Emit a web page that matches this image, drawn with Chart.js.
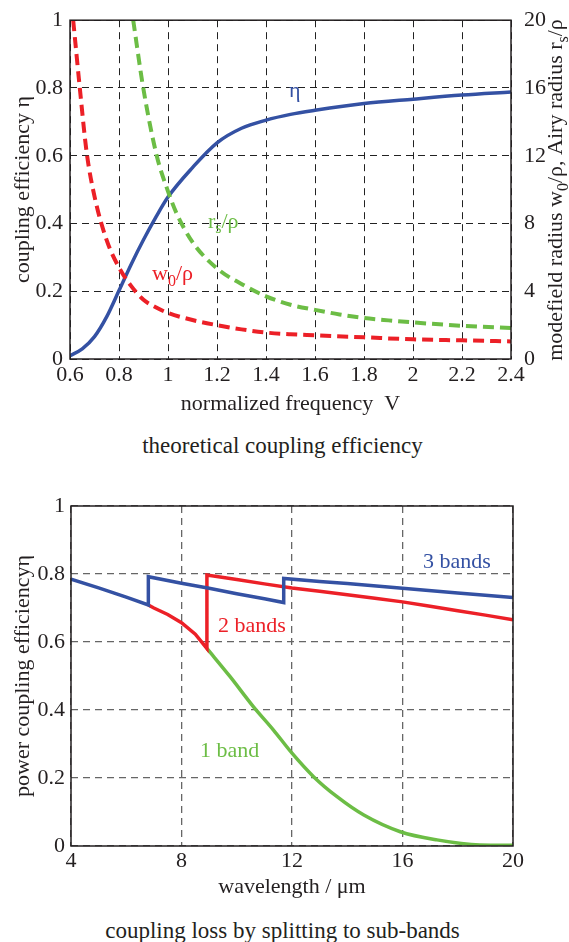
<!DOCTYPE html>
<html>
<head>
<meta charset="utf-8">
<script src="https://cdn.jsdelivr.net/npm/chart.js@4/dist/chart.umd.min.js"></script>
<style>
  body { margin: 0; background: #fff; }
  #page { position: relative; width: 569px; height: 942px; overflow: hidden; background: #fff; }
  canvas { position: absolute; left: 0; }
  .caption { position: absolute; left: 0; width: 565px; text-align: center; font: 23px "Liberation Serif", serif; color: #231f20; line-height: 26px; }
</style>
</head>
<body>
<div id="page">
  <canvas id="topChart" width="569" height="430" style="top:0"></canvas>
  <div class="caption" style="top:433px">theoretical coupling efficiency</div>
  <canvas id="bottomChart" width="569" height="420" style="top:480px"></canvas>
  <div class="caption" style="top:918px">coupling loss by splitting to sub-bands</div>
</div>
<script>
// --- top chart data (normalized frequency V) ---
const etaV = [0.6, 0.65, 0.7, 0.75, 0.8, 0.85, 0.9, 0.95, 1.0, 1.1, 1.2, 1.3, 1.4, 1.5, 1.6, 1.8, 2.0, 2.2, 2.4];
const etaVal = [0.01, 0.03, 0.066, 0.125, 0.202, 0.28, 0.352, 0.418, 0.478, 0.565, 0.638, 0.681, 0.705, 0.722, 0.734, 0.754, 0.767, 0.779, 0.788];
const w0V = [0.613, 0.64, 0.668, 0.7, 0.75, 0.8, 0.85, 0.9, 0.95, 1.0, 1.1, 1.2, 1.3, 1.4, 1.5, 1.6, 1.8, 2.0, 2.2, 2.4];
const w0Val = [20, 16, 12.2, 9.6, 7.0, 5.4, 4.3, 3.5, 3.05, 2.72, 2.3, 2.0, 1.75, 1.56, 1.46, 1.4, 1.28, 1.16, 1.1, 1.04];
const rsV = [0.858, 0.899, 0.954, 1.0, 1.035, 1.1, 1.2, 1.32, 1.4, 1.5, 1.6, 1.7, 1.8, 1.9, 2.0, 2.2, 2.4];
const rsVal = [20, 16, 12, 9.9, 8.6, 6.9, 5.35, 4.27, 3.7, 3.2, 2.9, 2.63, 2.42, 2.28, 2.16, 1.96, 1.83];
const topXTicks = [0.6, 0.8, 1, 1.2, 1.4, 1.6, 1.8, 2, 2.2, 2.4];
const topXLabels = ['0.6', '0.8', '1', '1.2', '1.4', '1.6', '1.8', '2', '2.2', '2.4'];
const topYTicks = [0, 0.2, 0.4, 0.6, 0.8, 1];
const topYLabels = ['0', '0.2', '0.4', '0.6', '0.8', '1'];
const topY2Ticks = [0, 4, 8, 12, 16, 20];
const topY2Labels = ['0', '4', '8', '12', '16', '20'];

// --- bottom chart data (wavelength / um) ---
const band3X = [4, 5, 6, 6.8, 6.8, 8, 9, 10, 11, 11.7, 11.7, 13, 14, 16, 18, 20];
const band3Y = [0.785, 0.759, 0.732, 0.709, 0.792, 0.773, 0.758, 0.742, 0.727, 0.716, 0.787, 0.778, 0.772, 0.758, 0.744, 0.731];
const band2X = [6.8, 7, 7.5, 8, 8.5, 8.92, 8.92, 10, 11, 12, 13, 14, 15, 16, 17, 18, 19, 20];
const band2Y = [0.709, 0.7, 0.681, 0.657, 0.623, 0.581, 0.797, 0.784, 0.771, 0.759, 0.749, 0.739, 0.729, 0.718, 0.705, 0.692, 0.679, 0.665];
const band1X = [8.92, 9.76, 10.6, 11.33, 12.0, 12.78, 13.63, 14.6, 15.92, 17.25, 18.8, 20];
const band1Y = [0.581, 0.498, 0.41, 0.341, 0.273, 0.204, 0.145, 0.091, 0.042, 0.018, 0.003, 0.002];
const botXTicks = [4, 8, 12, 16, 20];
const botXLabels = ['4', '8', '12', '16', '20'];
const botYTicks = [0, 0.2, 0.4, 0.6, 0.8, 1];
const botYLabels = ['0', '0.2', '0.4', '0.6', '0.8', '1'];

const BLUE = '#3451a3';
const RED = '#ec2027';
const GREEN = '#6cbd45';
const INK = '#231f20';
const FONT = '"Liberation Serif", "Times New Roman", serif';

function pts(xs, ys) {
    return xs.map((x, i) => ({ x: x, y: ys[i] }));
}

function fixedTicks(vals, labels) {
    return {
        afterBuildTicks: (scale) => { scale.ticks = vals.map(v => ({ value: v })); },
        callback: (v) => labels[vals.indexOf(v)]
    };
}

// text with subscripts: parts = [[text, isSub], ...]
function drawRich(ctx, parts, x, y, size, color, align, rot) {
    const main = size + 'px ' + FONT;
    const sub = Math.round(size * 0.72) + 'px ' + FONT;
    ctx.save();
    ctx.translate(x, y);
    if (rot) ctx.rotate(rot);
    let w = 0;
    parts.forEach(p => { ctx.font = p[1] ? sub : main; w += ctx.measureText(p[0]).width; });
    let cx = align === 'center' ? -w / 2 : 0;
    ctx.fillStyle = color;
    ctx.textBaseline = 'middle';
    ctx.textAlign = 'left';
    parts.forEach(p => {
        ctx.font = p[1] ? sub : main;
        ctx.fillText(p[0], cx, p[1] ? size * 0.34 : 0);
        cx += ctx.measureText(p[0]).width;
    });
    ctx.restore();
}

// frame around plot + labels inside the plot
const framePlugin = {
    id: 'frame',
    afterDraw(chart, args, opts) {
        const ctx = chart.ctx;
        const a = chart.chartArea;
        ctx.save();
        ctx.strokeStyle = INK;
        ctx.lineWidth = 1.5;
        ctx.strokeRect(a.left, a.top, a.right - a.left, a.bottom - a.top);
        ctx.restore();
        const xs = chart.scales.x, ys = chart.scales.y;
        (opts.labels || []).forEach(l => {
            drawRich(ctx, l.parts, xs.getPixelForValue(l.x), ys.getPixelForValue(l.y), l.size || 22, l.color, 'left');
        });
        (opts.rich || []).forEach(r => {
            drawRich(ctx, r.parts, r.px, r.py, r.size || 22, r.color, 'center', r.rot);
        });
    }
};

function gridOpts(color, width) {
    return { color: color, lineWidth: width, drawTicks: false };
}

const tickFont = { family: FONT, size: 22 };
const titleFont = { family: FONT, size: 22 };

// ---------- top chart ----------
new Chart(document.getElementById('topChart'), {
    type: 'line',
    data: {
        datasets: [
            { label: 'w0/rho', data: pts(w0V, w0Val), yAxisID: 'y2', borderColor: RED, borderWidth: 4, borderDash: [11, 6], pointRadius: 0, cubicInterpolationMode: 'monotone' },
            { label: 'rs/rho', data: pts(rsV, rsVal), yAxisID: 'y2', borderColor: GREEN, borderWidth: 4, borderDash: [11, 6], pointRadius: 0, cubicInterpolationMode: 'monotone' },
            { label: 'eta', data: pts(etaV, etaVal), yAxisID: 'y', borderColor: BLUE, borderWidth: 3.5, pointRadius: 0, cubicInterpolationMode: 'monotone' }
        ]
    },
    options: {
        responsive: false,
        animation: false,
        events: [],
        layout: { padding: { top: 20, left: 0, right: 0, bottom: 0 } },
        plugins: {
            legend: { display: false },
            tooltip: { enabled: false },
            frame: {
                labels: [
                    { parts: [['η', 0]], x: 1.494, y: 0.79, color: BLUE },
                    { parts: [['r', 0], ['s', 1], ['/ρ', 0]], x: 1.163, y: 0.405, color: GREEN },
                    { parts: [['w', 0], ['0', 1], ['/ρ', 0]], x: 0.935, y: 0.25, color: RED }
                ],
                rich: [
                    { parts: [['modefield radius w', 0], ['0', 1], ['/ρ, Airy radius r', 0], ['s', 1], ['/ρ', 0]], px: 556, py: 190, color: INK, rot: -Math.PI / 2 }
                ]
            }
        },
        scales: {
            x: {
                type: 'linear', min: 0.6, max: 2.4,
                afterFit: (s) => { s.height = 71; },
                afterBuildTicks: fixedTicks(topXTicks, topXLabels).afterBuildTicks,
                ticks: { callback: fixedTicks(topXTicks, topXLabels).callback, font: tickFont, color: INK, padding: 3, maxRotation: 0 },
                grid: gridOpts('#222', 1),
                border: { display: false, dash: [7, 5] },
                title: { display: true, text: 'normalized frequency  V', font: titleFont, color: INK, padding: { top: 0, bottom: 13 } }
            },
            y: {
                type: 'linear', position: 'left', min: 0, max: 1,
                afterFit: (s) => { s.width = 70; },
                afterBuildTicks: fixedTicks(topYTicks, topYLabels).afterBuildTicks,
                ticks: { callback: fixedTicks(topYTicks, topYLabels).callback, font: tickFont, color: INK, padding: 7 },
                grid: gridOpts('#222', 1),
                border: { display: false, dash: [7, 5] },
                title: { display: true, text: 'coupling efficiency η', font: titleFont, color: INK, padding: { top: 10, bottom: 0 } }
            },
            y2: {
                type: 'linear', position: 'right', min: 0, max: 20,
                afterFit: (s) => { s.width = 58; },
                afterBuildTicks: fixedTicks(topY2Ticks, topY2Labels).afterBuildTicks,
                ticks: { callback: fixedTicks(topY2Ticks, topY2Labels).callback, font: tickFont, color: INK, padding: 5 },
                grid: { display: false },
                border: { display: false }
            }
        }
    },
    plugins: [framePlugin]
});

// ---------- bottom chart ----------
new Chart(document.getElementById('bottomChart'), {
    type: 'line',
    data: {
        datasets: [
            { label: '3 bands', data: pts(band3X, band3Y), borderColor: BLUE, borderWidth: 3.5, pointRadius: 0, tension: 0 },
            { label: '2 bands', data: pts(band2X, band2Y), borderColor: RED, borderWidth: 3.5, pointRadius: 0, tension: 0 },
            { label: '1 band', data: pts(band1X, band1Y), borderColor: GREEN, borderWidth: 3.5, pointRadius: 0, cubicInterpolationMode: 'monotone' }
        ]
    },
    options: {
        responsive: false,
        animation: false,
        events: [],
        layout: { padding: { top: 26, left: 0, right: 56, bottom: 0 } },
        plugins: {
            legend: { display: false },
            tooltip: { enabled: false },
            frame: {
                labels: [
                    { parts: [['3 bands', 0]], x: 16.74, y: 0.835, color: BLUE },
                    { parts: [['2 bands', 0]], x: 9.32, y: 0.647, color: RED },
                    { parts: [['1 band', 0]], x: 8.67, y: 0.279, color: GREEN }
                ]
            }
        },
        scales: {
            x: {
                type: 'linear', min: 4, max: 20,
                afterFit: (s) => { s.height = 54; },
                afterBuildTicks: fixedTicks(botXTicks, botXLabels).afterBuildTicks,
                ticks: { callback: fixedTicks(botXTicks, botXLabels).callback, font: tickFont, color: INK, padding: 2, maxRotation: 0 },
                grid: gridOpts('#666', 1.3),
                border: { display: false, dash: [7, 5] },
                title: { display: true, text: 'wavelength / μm', font: titleFont, color: INK, padding: { top: 0, bottom: 0 } }
            },
            y: {
                type: 'linear', position: 'left', min: 0, max: 1,
                afterFit: (s) => { s.width = 71; },
                afterBuildTicks: fixedTicks(botYTicks, botYLabels).afterBuildTicks,
                ticks: { callback: fixedTicks(botYTicks, botYLabels).callback, font: tickFont, color: INK, padding: 6 },
                grid: gridOpts('#666', 1.3),
                border: { display: false, dash: [7, 5] },
                title: { display: true, text: 'power coupling efficiencyη', font: titleFont, color: INK, padding: { top: 10, bottom: 0 } }
            }
        }
    },
    plugins: [framePlugin]
});
</script>
</body>
</html>
